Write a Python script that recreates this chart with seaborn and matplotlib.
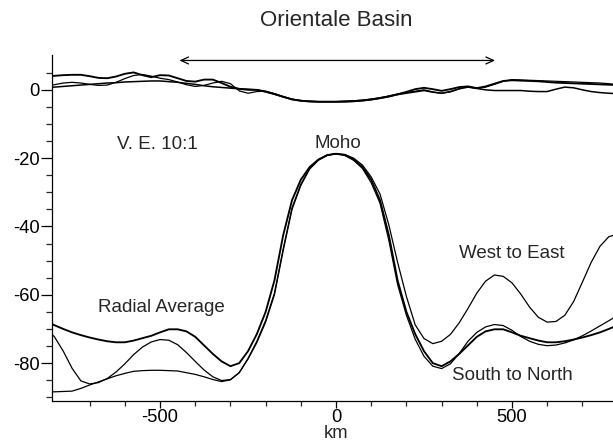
import numpy as np
import pandas as pd
import matplotlib
matplotlib.use("Agg")
import matplotlib.pyplot as plt
import seaborn as sns

# ---------------- data (km, depth/elevation in km) ----------------
dist_km = list(range(-825, 826, 25))   # 67 sample positions

moho_radial = [
    -67.8, -68.9, -70.0, -71.0, -71.8, -72.5, -73.1, -73.6, -73.9, -73.9,
    -73.4, -72.7, -72.0, -71.0, -70.1, -70.1, -70.7, -72.3, -74.8, -77.3,
    -79.5, -80.9, -80.0, -76.5, -71.5, -65.0, -55.8, -42.5, -32.3, -26.3,
    -22.6, -20.4, -19.1, -18.7, -19.1, -20.4, -22.6, -26.3, -32.3, -42.5,
    -55.8, -65.0, -71.5, -76.5, -80.0, -80.9, -79.5, -77.3, -74.8, -72.3,
    -70.7, -70.1, -70.1, -71.0, -72.0, -72.7, -73.4, -73.9, -73.9, -73.6,
    -73.1, -72.5, -71.8, -71.0, -70.0, -68.9, -67.8]

moho_west_east = [
    -69.8, -72.3, -76.5, -81.5, -85.2, -86.1, -85.7, -84.5, -82.6, -80.2,
    -77.5, -75.3, -73.8, -73.1, -73.3, -74.6, -76.9, -79.5, -82.0, -84.0,
    -85.1, -84.8, -82.8, -78.8, -74.0, -68.0, -60.0, -47.0, -35.0, -28.0,
    -23.2, -20.6, -19.2, -18.7, -18.9, -20.0, -22.0, -25.5, -30.5, -39.5,
    -50.5, -60.5, -68.8, -72.8, -74.3, -73.6, -71.6, -68.2, -64.0, -59.5,
    -56.0, -54.2, -54.6, -56.5, -59.8, -63.6, -66.6, -68.0, -67.8, -66.0,
    -62.0, -56.3, -50.5, -45.8, -43.0, -42.2, -42.0]

moho_south_north = [
    -88.4, -88.4, -88.3, -88.2, -87.4, -86.4, -85.5, -84.6, -83.7, -83.0,
    -82.4, -82.2, -82.1, -82.1, -82.2, -82.3, -82.8, -83.3, -84.0, -84.8,
    -85.4, -84.9, -82.8, -78.6, -73.6, -67.5, -59.5, -46.5, -34.5, -27.6,
    -23.0, -20.5, -19.1, -18.7, -19.2, -20.6, -23.0, -27.2, -33.2, -44.0,
    -57.0, -66.0, -73.0, -78.0, -80.9, -81.6, -80.2, -77.2, -73.6, -71.0,
    -69.4, -68.7, -69.0, -70.4, -72.2, -73.6, -74.5, -74.9, -74.7, -74.1,
    -73.2, -72.0, -70.6, -69.1, -67.6, -66.0, -64.5]

topo_radial = [
    4.0, 4.1, 4.3, 4.4, 4.4, 4.0, 3.5, 3.4, 3.9, 4.7,
    5.1, 4.3, 3.7, 4.3, 4.2, 3.4, 2.6, 2.4, 3.0, 3.0,
    2.0, 0.9, 0.3, 0.0, 0.0, -0.5, -1.2, -2.0, -2.8, -3.2,
    -3.4, -3.5, -3.5, -3.5, -3.4, -3.3, -3.1, -2.8, -2.4, -1.9,
    -1.3, -0.6, 0.2, 0.6, 0.2, -0.3, 0.2, 0.8, 1.0, 0.5,
    1.0, 1.8, 2.6, 2.8, 2.7, 2.6, 2.5, 2.3, 2.1, 2.0,
    1.9, 1.8, 1.7, 1.6, 1.5, 1.4, 1.3]

topo_west_east = [
    1.3, 1.5, 2.0, 2.2, 2.0, 1.6, 1.3, 1.4, 2.2, 3.3,
    4.2, 4.5, 4.0, 3.4, 3.0, 2.3, 1.5, 1.0, 1.3, 2.0,
    2.5, 1.8, -0.3, -1.0, -0.5, -0.4, -1.1, -2.0, -2.7, -3.1,
    -3.3, -3.4, -3.4, -3.4, -3.3, -3.2, -3.0, -2.7, -2.3, -1.8,
    -1.2, -0.8, -0.4, 0.0, -0.6, -1.0, -0.6, 0.3, 1.0, 0.4,
    0.8, 1.6, 2.5, 3.0, 2.9, 2.8, 2.7, 2.6, 2.5, 2.4,
    2.3, 2.2, 2.1, 2.0, 1.8, 1.5, 1.3]

topo_south_north = [
    0.7, 0.8, 1.0, 1.2, 1.4, 1.6, 1.8, 2.0, 2.1, 2.3,
    2.4, 2.5, 2.6, 2.6, 2.4, 2.2, 1.9, 1.6, 1.2, 0.9,
    0.7, 0.5, 0.3, 0.2, 0.0, -0.6, -1.3, -2.1, -2.8, -3.2,
    -3.4, -3.5, -3.5, -3.5, -3.5, -3.4, -3.2, -2.9, -2.5, -2.0,
    -1.4, -1.0, -0.6, -0.2, -0.7, -1.0, -0.5, 0.3, 0.8, 0.4,
    0.0, -0.2, -0.2, -0.2, -0.2, -0.4, -0.5, -0.5, 0.2, 0.8,
    0.6, 0.0, -0.5, -0.8, -1.0, -1.1, -1.2]

ytick_values = [0, -20, -40, -60, -80]
ytick_labels = ["0", "-20", "-40", "-60", "-80"]
xtick_values = [-500, 0, 500]
xtick_labels = ["-500", "0", "500"]

# ---------------- style ----------------
sns.set_style("ticks")
plt.rcParams["font.family"] = ["Liberation Sans", "DejaVu Sans"]
plt.rcParams["axes.unicode_minus"] = False

fig = plt.figure(figsize=(6.13, 4.41), dpi=100)
ax = fig.add_axes([52 / 613, 40.3 / 441, 561 / 613, 345.7 / 441])

series = [
    (moho_radial, 1.35), (moho_west_east, 0.9), (moho_south_north, 0.9),
    (topo_radial, 1.35), (topo_west_east, 0.9), (topo_south_north, 1.1),
]
for vals, lw in series:
    sns.lineplot(x=dist_km, y=vals, ax=ax, color="black", linewidth=lw,
                 estimator=None, sort=False, legend=False)

ax.set_xlim(-807, 787)
ax.set_ylim(-91, 10.2)

ax.set_yticks(ytick_values)
ax.set_yticklabels(ytick_labels)
ax.set_yticks(list(range(-90, 10, 5)), minor=True)
ax.set_xticks(xtick_values)
ax.set_xticklabels(xtick_labels)
ax.set_xticks(list(range(-700, 800, 100)), minor=True)

ax.tick_params(axis="both", which="major", labelsize=13.2, color="black",
               labelcolor="black", width=0.9, direction="out")
ax.tick_params(axis="y", which="major", length=8, pad=1)
ax.tick_params(axis="y", which="minor", length=4, width=0.9)
ax.tick_params(axis="x", which="major", length=5, pad=1)
ax.tick_params(axis="x", which="minor", length=3.5, width=0.9)

for side in ["top", "right"]:
    ax.spines[side].set_visible(False)
for side in ["left", "bottom"]:
    ax.spines[side].set_color("black")
    ax.spines[side].set_linewidth(0.9)

ax.set_xlabel("km", fontsize=13.2, labelpad=0)
ax.xaxis.set_label_coords(0.506, -0.094)
ax.xaxis.label.set_va("center")
ax.set_ylabel("")

# arrow spanning the basin
ax.annotate("", xy=(452, 8.6), xytext=(-445, 8.6),
            arrowprops=dict(arrowstyle="<->,head_length=0.55,head_width=0.25",
                            lw=0.9, color="black", mutation_scale=10,
                            shrinkA=0, shrinkB=0))

fs = 13.5
ax.text(-507, -16.1, "V. E. 10:1", ha="center", va="center", fontsize=fs)
ax.text(6, -15.6, "Moho", ha="center", va="center", fontsize=fs)
ax.text(498, -48, "West to East", ha="center", va="center", fontsize=fs)
ax.text(-495, -63.6, "Radial Average", ha="center", va="center", fontsize=fs)
ax.text(500, -83.5, "South to North", ha="center", va="center", fontsize=fs)

fig.text(336 / 613, 1 - 20 / 441, "Orientale Basin", ha="center", va="center",
         fontsize=16)

fig.savefig("out.png", dpi=100)
